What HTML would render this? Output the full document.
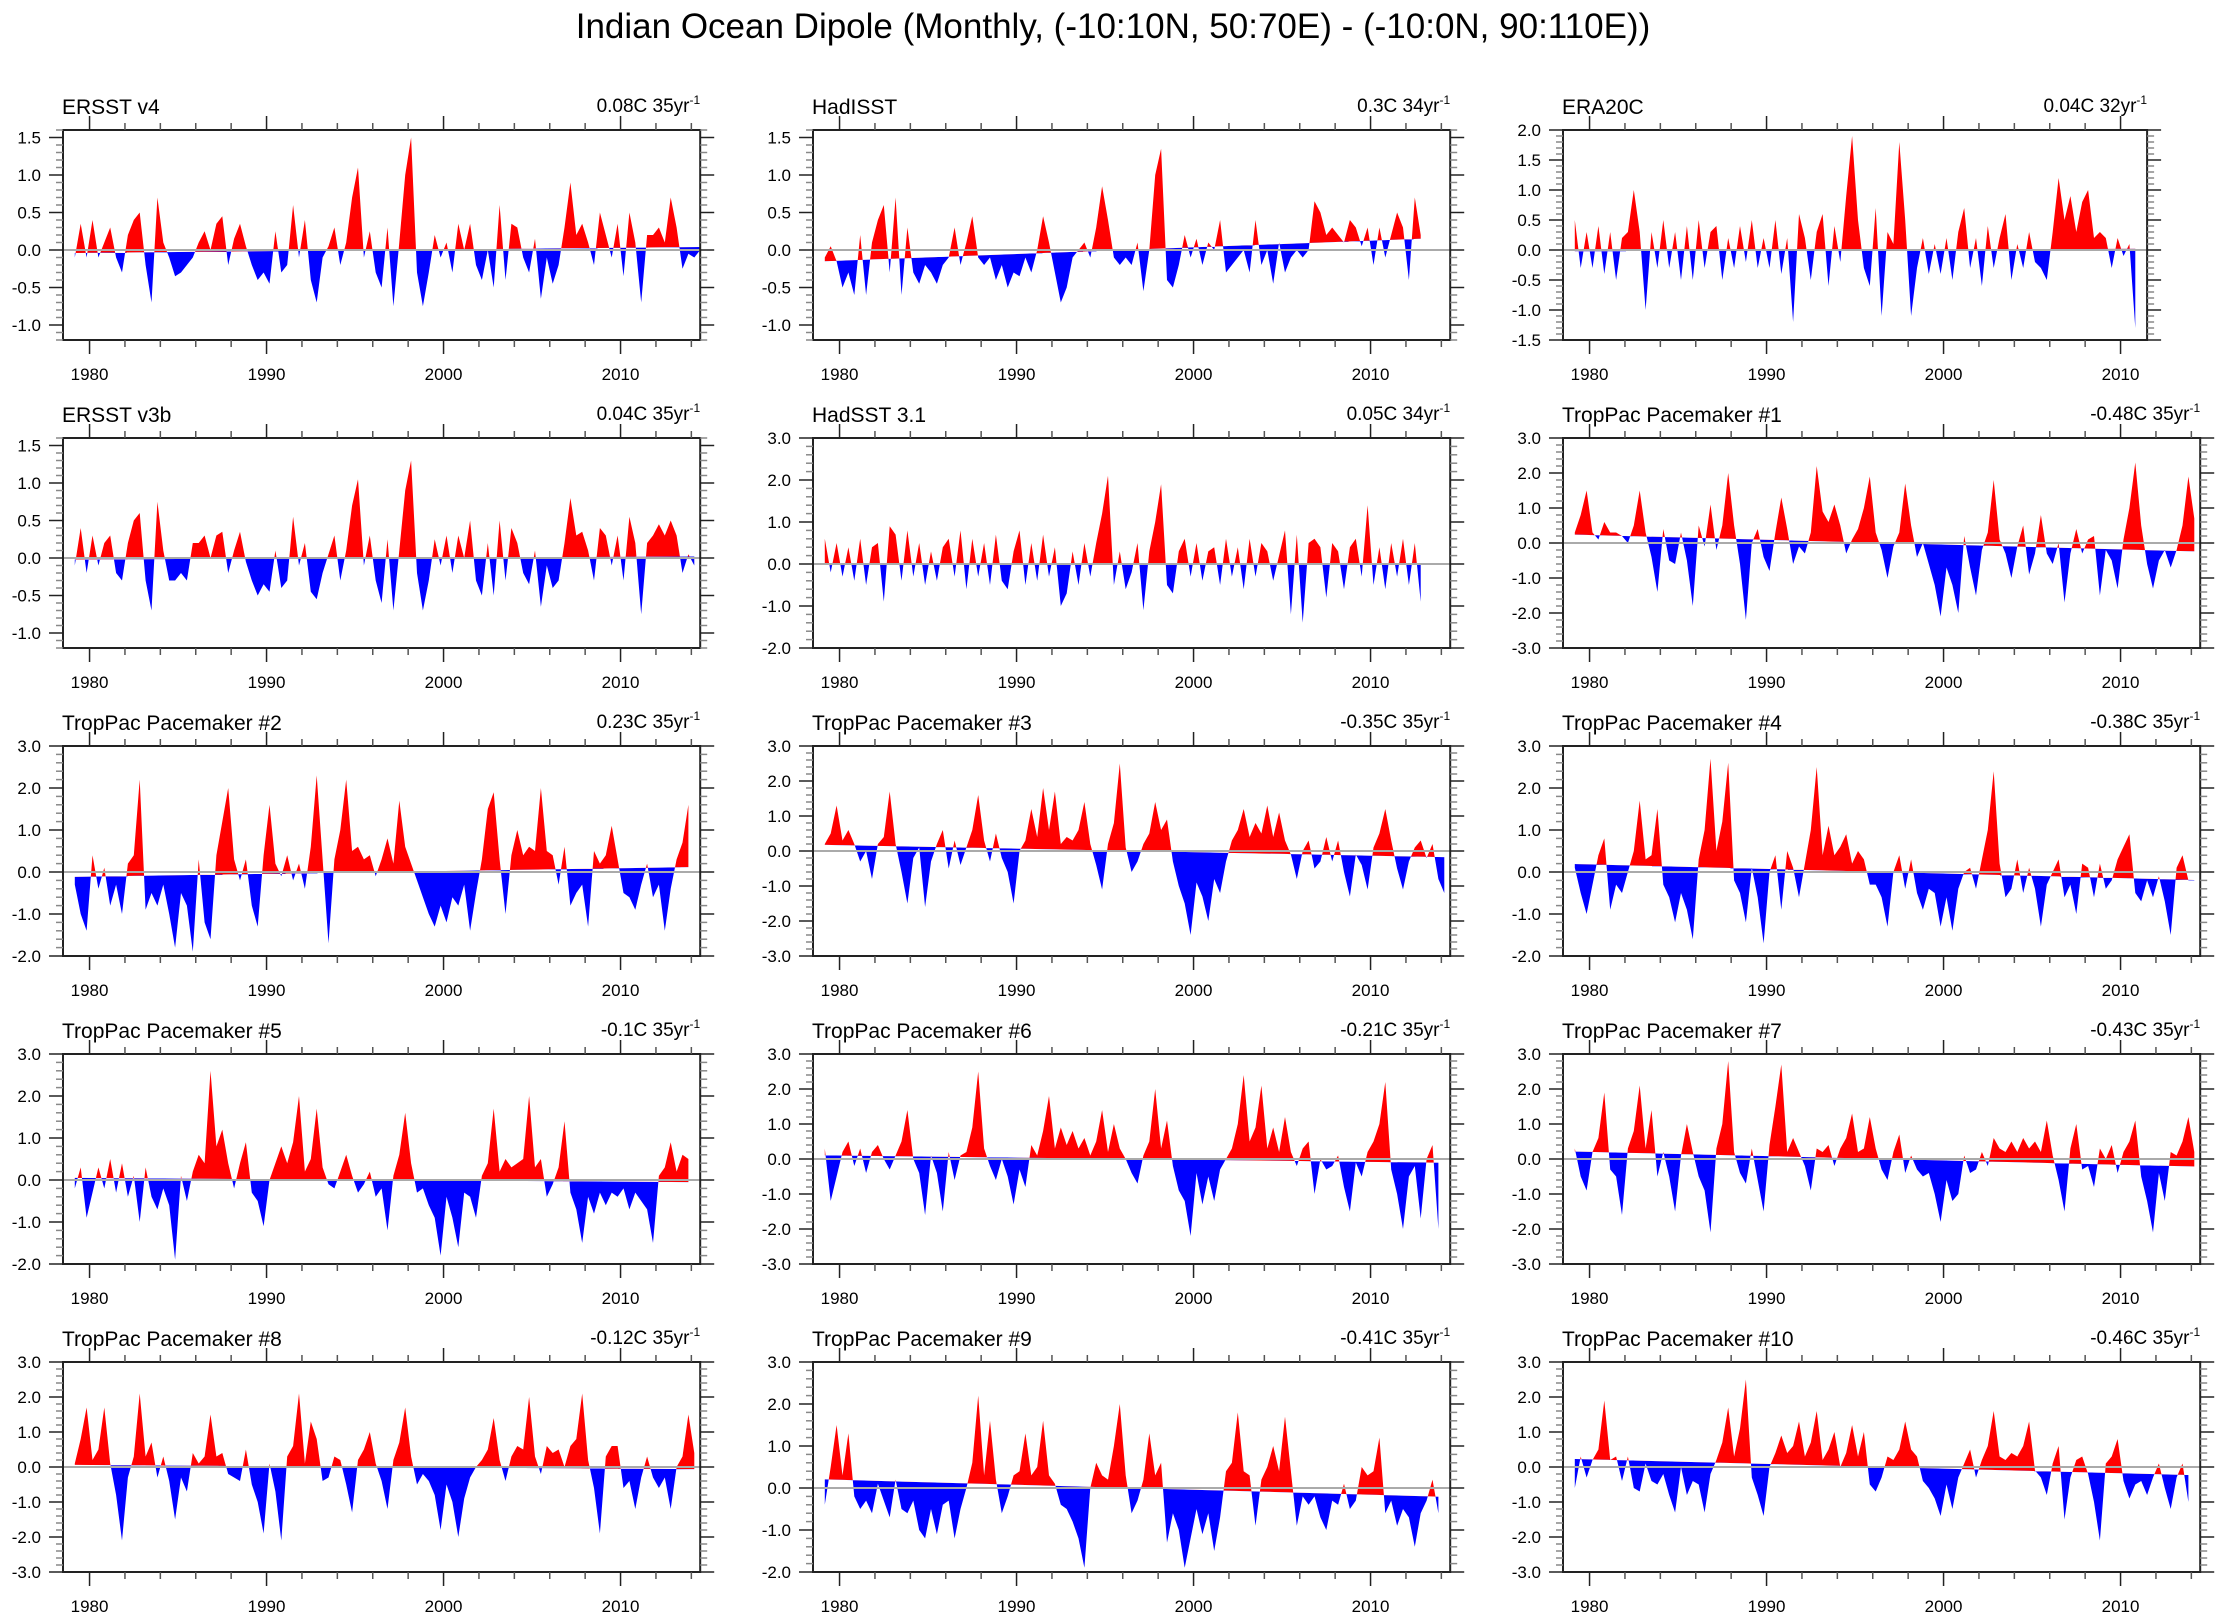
<!DOCTYPE html>
<html><head><meta charset="utf-8">
<style>
html,body{margin:0;padding:0;background:#fff;}
svg{display:block;font-family:"Liberation Sans",Arial,sans-serif;}
</style></head>
<body>
<svg id="chart" width="2226" height="1621" viewBox="0 0 2226 1621" xmlns="http://www.w3.org/2000/svg">
<text x="1113" y="38" text-anchor="middle" font-size="35">Indian Ocean Dipole (Monthly, (-10:10N, 50:70E) - (-10:0N, 90:110E))</text>
</svg>
<script>
// ---- data: values every 4 months starting 1979 ----
const ersst4 = [-0.1,0.35,-0.1, 0.4,-0.1,0.1, 0.3,-0.1,-0.3, 0.2,0.4,0.5, -0.2,-0.7,0.7, 0.1,-0.1,-0.35, -0.3,-0.2,-0.1, 0.1,0.25,0.0, 0.35,0.45,-0.2, 0.15,0.35,0.05, -0.2,-0.4,-0.3, -0.45,0.25,-0.3, -0.2,0.6,-0.1, 0.4,-0.4,-0.7, -0.1,0.05,0.3, -0.2,0.1,0.7, 1.1,-0.1,0.25, -0.3,-0.5,0.3, -0.75,0.1,1.0, 1.5,-0.3,-0.75, -0.3,0.2,-0.1, 0.1,-0.3,0.35, 0.0,0.35,-0.2, -0.4,0.0,-0.5, 0.6,-0.4,0.35, 0.3,-0.1,-0.3, 0.15,-0.65,-0.1, -0.45,-0.2,0.3, 0.9,0.2,0.35, 0.1,-0.2,0.5, 0.2,-0.1,0.35, -0.35,0.5,0.1, -0.7,0.2,0.2, 0.3,0.1,0.7, 0.3,-0.25,-0.05, -0.1,0.0];
const hadisst = [-0.1,0.05,-0.15, -0.5,-0.3,-0.6, 0.2,-0.6,0.1, 0.4,0.6,-0.3, 0.7,-0.6,0.3, -0.3,-0.45,-0.2, -0.3,-0.45,-0.2, -0.1,0.3,-0.2, 0.1,0.45,-0.1, -0.2,-0.1,-0.4, -0.2,-0.5,-0.3, -0.35,-0.1,-0.3, 0.0,0.45,0.1, -0.3,-0.7,-0.5, -0.1,0.0,0.1, -0.1,0.3,0.85, 0.4,-0.1,-0.2, -0.1,-0.2,0.1, -0.55,0.0,1.0, 1.35,-0.4,-0.5, -0.2,0.2,-0.1, 0.15,-0.2,0.1, 0.0,0.4,-0.3, -0.2,-0.1,0.0, -0.3,0.4,-0.2, 0.0,-0.45,0.1, -0.3,-0.1,0.0, -0.1,0.0,0.65, 0.5,0.2,0.3, 0.2,0.1,0.4, 0.3,0.05,0.3, -0.2,0.3,-0.1, 0.2,0.5,0.3, -0.4,0.7,0.2];
const era20c = [0.5,-0.3,0.3, -0.3,0.4,-0.4, 0.3,-0.5,0.2, 0.3,1.0,0.3, -1.0,0.3,-0.3, 0.5,-0.3,0.3, -0.5,0.4,-0.5, 0.5,-0.3,0.3, 0.4,-0.5,0.2, -0.3,0.4,-0.2, 0.5,-0.3,0.2, -0.3,0.5,-0.4, 0.2,-1.2,0.6, 0.2,-0.5,0.3, 0.6,-0.6,0.4, -0.2,0.9,1.9, 0.5,-0.3,-0.6, 0.7,-1.1,0.3, 0.1,1.8,0.5, -1.1,-0.3,0.2, -0.4,0.1,-0.4, 0.2,-0.5,0.3, 0.7,-0.3,0.2, -0.6,0.4,-0.3, 0.2,0.6,-0.5, 0.1,-0.3,0.3, -0.2,-0.3,-0.5, 0.3,1.2,0.5, 0.9,0.3,0.8, 1.0,0.2,0.3, 0.2,-0.3,0.2, -0.1,0.1,-1.3];
const ersst3b = [-0.1,0.4,-0.2, 0.3,-0.1,0.2, 0.3,-0.2,-0.3, 0.2,0.5,0.6, -0.3,-0.7,0.75, 0.1,-0.3,-0.3, -0.2,-0.3,0.2, 0.2,0.3,0.0, 0.3,0.35,-0.2, 0.1,0.35,-0.05, -0.3,-0.5,-0.35, -0.45,0.1,-0.4, -0.3,0.55,-0.1, 0.2,-0.45,-0.55, -0.2,0.05,0.3, -0.3,0.1,0.7, 1.05,-0.1,0.3, -0.3,-0.6,0.25, -0.7,0.1,0.9, 1.3,-0.2,-0.7, -0.3,0.25,-0.1, 0.3,-0.2,0.3, 0.0,0.5,-0.3, -0.5,0.2,-0.5, 0.5,-0.3,0.4, 0.2,-0.2,-0.35, 0.1,-0.65,-0.1, -0.4,-0.3,0.2, 0.8,0.3,0.35, 0.1,-0.3,0.4, 0.3,-0.1,0.3, -0.3,0.55,0.2, -0.75,0.2,0.3, 0.45,0.3,0.5, 0.3,-0.2,0.05, -0.1];
const hadsst = [0.6,-0.2,0.5, -0.3,0.4,-0.4, 0.6,-0.5,0.4, 0.5,-0.9,0.9, 0.7,-0.4,0.8, -0.3,0.5,-0.5, 0.3,-0.4,0.4, 0.6,-0.3,0.8, -0.6,0.6,-0.3, 0.5,-0.5,0.7, -0.4,-0.6,0.3, 0.8,-0.5,0.5, -0.4,0.7,-0.3, 0.4,-1.0,-0.7, 0.3,-0.5,0.5, -0.3,0.5,1.2, 2.1,-0.5,0.3, -0.6,-0.2,0.5, -1.1,0.3,1.0, 1.9,-0.5,-0.7, 0.3,0.6,-0.3, 0.5,-0.4,0.3, 0.4,-0.5,0.6, -0.3,0.4,-0.6, 0.6,-0.3,0.5, 0.3,-0.4,0.2, 0.8,-1.2,0.7, -1.4,0.5,0.6, 0.4,-0.8,0.5, 0.3,-0.6,0.4, 0.6,-0.3,1.4, -0.5,0.4,-0.6, 0.5,-0.3,0.6, -0.5,0.5,-0.9];
const pm1 = [0.3,0.8,1.5, 0.3,0.1,0.6, 0.3,0.3,0.2, 0.0,0.5,1.5, 0.3,-0.4,-1.4, 0.4,-0.5,-0.6, 0.3,-0.5,-1.8, 0.5,-0.1,1.1, -0.2,0.5,2.0, 0.5,-0.6,-2.2, 0.0,0.4,-0.4, -0.8,0.3,1.3, 0.4,-0.6,-0.1, -0.3,0.3,2.2, 0.9,0.6,1.1, 0.5,-0.3,0.1, 0.4,1.0,1.9, 0.3,-0.2,-1.0, -0.1,0.3,1.7, 0.5,-0.4,0.0, -0.6,-1.2,-2.1, -0.7,-1.2,-2.0, 0.2,-0.7,-1.5, -0.2,0.3,1.8, 0.1,-0.3,-1.0, -0.1,0.5,-0.9, -0.3,0.8,-0.3, -0.6,0.0,-1.7, -0.3,0.4,-0.3, 0.1,0.2,-1.5, -0.2,-0.5,-1.3, 0.1,1.0,2.3, 0.5,-0.6,-1.3, -0.5,-0.2,-0.7, -0.2,0.5,1.9, 0.7];
const pm2 = [-0.3,-1.0,-1.4, 0.4,-0.4,0.1, -0.8,-0.3,-1.0, 0.2,0.4,2.2, -0.9,-0.5,-0.8, -0.3,-1.0,-1.8, -0.5,-0.8,-1.9, 0.3,-1.2,-1.6, 0.4,1.2,2.0, 0.3,-0.2,0.3, -0.8,-1.3,0.4, 1.6,0.2,-0.1, 0.4,-0.2,0.2, -0.4,0.6,2.3, 0.3,-1.7,0.3, 1.0,2.2,0.5, 0.6,0.3,0.4, -0.1,0.3,0.8, 0.2,1.7,0.6, 0.2,-0.2,-0.6, -1.0,-1.3,-0.8, -1.2,-0.6,-0.8, -0.3,-1.4,-0.5, 0.3,1.5,1.9, 0.3,-1.0,0.4, 1.0,0.4,0.6, 0.5,2.0,0.5, 0.4,-0.3,0.6, -0.8,-0.5,-0.3, -1.3,0.5,0.2, 0.4,1.1,0.3, -0.5,-0.6,-0.9, -0.3,0.2,-0.6, -0.3,-1.4,-0.4, 0.3,0.7,1.6];
const pm3 = [0.2,0.5,1.3, 0.3,0.6,0.2, -0.3,0.0,-0.8, 0.2,0.4,1.7, 0.2,-0.6,-1.5, -0.2,0.1,-1.6, -0.3,0.2,0.6, -0.5,0.3,-0.4, 0.1,0.6,1.6, 0.3,-0.3,0.5, -0.2,-0.6,-1.5, 0.0,0.3,1.2, 0.4,1.8,0.6, 1.7,0.2,0.4, 0.3,0.6,1.4, 0.2,-0.4,-1.1, 0.2,0.8,2.5, 0.1,-0.6,-0.3, 0.2,0.5,1.4, 0.6,0.9,-0.3, -1.0,-1.5,-2.4, -0.9,-1.3,-2.0, -0.8,-1.2,-0.3, 0.3,0.6,1.2, 0.4,0.8,0.5, 1.3,0.4,1.1, 0.3,-0.1,-0.8, 0.0,0.3,-0.5, -0.3,0.4,-0.3, 0.3,-0.6,-1.3, -0.1,-0.4,-1.1, 0.1,0.5,1.2, 0.3,-0.5,-1.1, -0.3,0.1,0.3, -0.2,0.2,-0.8, -1.2];
const pm4 = [0.1,-0.5,-1.0, -0.3,0.4,0.8, -0.9,-0.3,-0.5, 0.0,0.5,1.7, 0.3,0.4,1.5, -0.3,-0.6,-1.2, -0.5,-0.9,-1.6, 0.3,1.0,2.7, 0.5,1.2,2.6, -0.2,-0.5,-1.2, 0.1,-0.6,-1.7, 0.0,0.4,-0.9, 0.5,0.1,-0.6, 0.2,1.0,2.5, 0.4,1.1,0.4, 0.6,0.9,0.2, 0.5,0.3,-0.3, -0.3,-0.6,-1.3, 0.0,0.4,-0.4, 0.3,-0.5,-0.9, -0.4,-0.5,-1.3, -0.6,-1.4,-0.4, 0.0,0.1,-0.4, 0.3,1.0,2.4, 0.2,-0.6,-0.4, 0.3,-0.5,0.1, -0.4,-1.3,-0.3, 0.0,0.3,-0.6, -0.3,-1.0,0.2, 0.1,-0.6,0.2, -0.4,-0.2,0.3, 0.6,0.9,-0.5, -0.7,-0.2,-0.6, -0.1,-0.7,-1.5, 0.1,0.4,-0.2, -0.2];
const pm5 = [-0.2,0.3,-0.9, -0.3,0.3,-0.2, 0.5,-0.3,0.4, -0.4,0.1,-1.0, 0.3,-0.4,-0.7, -0.2,-0.6,-1.9, 0.1,-0.5,0.2, 0.6,0.4,2.6, 0.8,1.2,0.4, -0.2,0.4,0.9, -0.3,-0.5,-1.1, 0.0,0.4,0.8, 0.4,0.9,2.0, 0.2,0.5,1.7, 0.3,-0.1,-0.2, 0.2,0.6,0.1, -0.3,-0.1,0.2, -0.4,-0.2,-1.2, 0.1,0.6,1.6, 0.4,-0.3,-0.2, -0.6,-0.9,-1.8, -0.4,-0.9,-1.6, -0.3,-0.4,-0.9, 0.1,0.4,1.7, 0.2,0.5,0.3, 0.4,0.5,2.0, 0.3,0.5,-0.4, -0.1,0.3,1.4, -0.3,-0.7,-1.5, -0.4,-0.8,-0.3, -0.6,-0.3,-0.4, -0.2,-0.7,-0.3, -0.5,-0.7,-1.5, 0.1,0.3,0.9, 0.2,0.6,0.5];
const pm6 = [0.3,-1.2,-0.5, 0.2,0.5,-0.2, 0.3,-0.4,0.2, 0.4,0.0,-0.3, 0.1,0.5,1.4, 0.0,-0.4,-1.6, 0.1,-0.4,-1.5, 0.2,-0.6,0.1, 0.2,0.9,2.5, 0.3,-0.2,-0.6, 0.0,-0.5,-1.3, -0.3,-0.8,0.4, 0.1,0.8,1.8, 0.3,0.9,0.4, 0.8,0.3,0.6, 0.1,0.5,1.4, 0.2,1.0,0.3, 0.0,-0.4,-0.7, 0.1,0.5,2.0, 0.3,1.1,-0.2, -0.9,-1.2,-2.2, -0.4,-1.3,-0.5, -1.2,-0.3,0.0, 0.3,1.0,2.4, 0.5,0.9,2.1, 0.3,0.9,0.2, 1.2,0.2,-0.2, 0.3,0.5,-1.0, 0.0,-0.3,-0.2, 0.1,-0.8,-1.5, -0.1,-0.5,0.2, 0.5,1.0,2.2, -0.3,-1.0,-2.0, -0.5,-0.2,-1.7, 0.0,0.4,-2.0];
const pm7 = [0.3,-0.5,-0.9, 0.2,0.6,1.9, -0.3,-0.5,-1.6, 0.3,0.8,2.1, 0.3,1.4,-0.5, 0.2,-0.5,-1.5, 0.1,1.0,0.2, -0.5,-0.9,-2.1, 0.3,1.0,2.8, 0.2,-0.4,-0.7, 0.3,-0.6,-1.5, 0.4,1.5,2.7, 0.2,0.6,0.2, -0.2,-0.9,0.3, 0.2,0.4,-0.2, 0.3,0.6,1.3, 0.2,0.3,1.2, 0.3,-0.3,-0.6, 0.2,0.7,-0.4, 0.1,-0.3,-0.5, -0.4,-1.0,-1.8, -0.6,-1.2,-1.0, 0.1,-0.4,-0.3, 0.2,-0.2,0.6, 0.3,0.2,0.5, 0.2,0.6,0.3, 0.5,0.2,1.1, 0.1,-0.6,-1.5, 0.3,1.0,-0.3, -0.2,-0.8,0.3, 0.0,0.4,-0.4, 0.2,0.5,1.1, -0.5,-1.2,-2.1, -0.4,-1.2,0.2, 0.1,0.5,1.2, 0.2];
const pm8 = [0.1,0.8,1.7, 0.2,0.5,1.7, 0.1,-0.8,-2.1, -0.3,0.3,2.1, 0.3,0.7,-0.3, 0.3,-0.4,-1.5, -0.3,-0.7,0.4, 0.1,0.3,1.5, 0.3,0.4,-0.2, -0.3,-0.4,0.5, -0.5,-1.0,-1.9, 0.1,-0.7,-2.1, 0.3,0.6,2.1, 0.1,1.3,0.8, -0.4,-0.3,0.3, 0.2,-0.5,-1.3, 0.2,0.5,1.0, 0.1,-0.4,-1.2, 0.2,0.7,1.7, 0.3,-0.5,-0.2, -0.4,-0.8,-1.8, -0.5,-1.0,-2.0, -0.9,-0.3,0.0, 0.2,0.5,1.4, 0.2,-0.4,0.3, 0.6,0.5,2.0, 0.3,-0.2,0.6, 0.4,0.5,0.0, 0.6,0.8,2.1, 0.2,-0.6,-1.9, 0.3,0.6,0.6, -0.6,-0.4,-1.2, -0.3,0.3,-0.3, -0.6,-0.3,-1.2, 0.0,0.3,1.5, 0.4];
const pm9 = [-0.4,0.5,1.5, 0.3,1.3,-0.2, -0.5,-0.3,-0.6, 0.1,-0.3,-0.7, 0.2,-0.5,-0.6, -0.3,-1.0,-1.2, -0.5,-1.1,-0.4, -0.3,-1.2,-0.5, 0.0,0.6,2.2, 0.3,1.6,0.2, -0.6,-0.2,0.3, 0.4,1.3,0.3, 0.5,1.6,0.3, 0.1,-0.4,-0.5, -0.8,-1.2,-1.9, 0.0,0.6,0.3, 0.2,1.0,2.0, 0.3,-0.6,-0.3, 0.2,1.3,0.3, 0.6,-1.3,-0.6, -1.0,-1.9,-1.2, -0.5,-1.1,-0.6, -1.5,-0.7,0.4, 0.6,1.8,0.4, 0.3,-0.9,0.2, 0.5,1.0,0.4, 1.7,0.4,-0.9, -0.2,-0.4,-0.2, -0.7,-1.0,-0.3, -0.4,0.1,-0.5, -0.3,0.5,0.3, 0.4,1.2,-0.6, -0.3,-0.9,-0.5, -0.7,-1.4,-0.6, -0.3,0.2,-0.6];
const pm10 = [-0.6,0.3,-0.3, 0.2,0.5,1.9, 0.2,0.3,-0.4, 0.3,-0.6,-0.7, 0.1,-0.4,-0.5, -0.2,-0.8,-1.3, 0.0,-0.8,-0.4, -0.5,-1.3,-0.2, 0.2,0.7,1.7, 0.3,1.1,2.5, -0.3,-0.8,-1.4, 0.0,0.4,0.9, 0.4,0.6,1.3, 0.3,0.7,1.6, 0.2,0.5,1.0, 0.0,0.4,1.2, 0.3,1.0,-0.5, -0.7,-0.3,0.3, 0.2,0.5,1.3, 0.5,0.3,-0.4, -0.6,-0.9,-1.4, -0.5,-1.2,-0.3, 0.1,0.5,-0.3, 0.2,0.6,1.6, 0.3,0.2,0.4, 0.3,0.6,1.3, -0.1,-0.3,-0.8, 0.1,0.6,-1.5, -0.3,0.2,0.3, -0.2,-1.0,-2.1, 0.1,0.3,0.8, -0.4,-0.9,-0.5, -0.4,-0.8,-0.3, 0.1,-0.6,-1.2, -0.3,0.1,-1.0];

const panelTitles = ["ERSST v4","HadISST","ERA20C","ERSST v3b","HadSST 3.1","TropPac Pacemaker #1","TropPac Pacemaker #2","TropPac Pacemaker #3","TropPac Pacemaker #4","TropPac Pacemaker #5","TropPac Pacemaker #6","TropPac Pacemaker #7","TropPac Pacemaker #8","TropPac Pacemaker #9","TropPac Pacemaker #10"];
const trendValues = [0.08,0.3,0.04,0.04,0.05,-0.48,0.23,-0.35,-0.38,-0.1,-0.21,-0.43,-0.12,-0.41,-0.46];
const trendYears = [35,34,32,35,34,35,35,35,35,35,35,35,35,35,35];
const yMins = [-1.2,-1.2,-1.5,-1.2,-2,-3,-2,-3,-2,-2,-3,-3,-3,-2,-3];
const yMaxs = [1.6,1.6,2.0,1.6,3,3,3,3,3,3,3,3,3,3,3];
const yEnds = [2014.5,2014.5,2011.5,2014.5,2014.5,2014.5,2014.5,2014.5,2014.5,2014.5,2014.5,2014.5,2014.5,2014.5,2014.5];
const series = [ersst4,hadisst,era20c,ersst3b,hadsst,pm1,pm2,pm3,pm4,pm5,pm6,pm7,pm8,pm9,pm10];
const yearLabels = [1980,1990,2000,2010];

const NS = "http://www.w3.org/2000/svg";
const svg = document.getElementById('chart');
function mk(tag, attrs, parent){
  const e = document.createElementNS(NS, tag);
  for (const k in attrs) e.setAttribute(k, attrs[k]);
  (parent||svg).appendChild(e);
  return e;
}
const PX_PER_YR = 17.7, X0YR = 1978.5, BOX_H = 210;
const colLeft = [63, 813, 1563];
const rowTop = [130, 438, 746, 1054, 1362];

series.forEach((vals, p) => {
  const left = colLeft[p % 3], top = rowTop[Math.floor(p / 3)];
  const right = left + (yEnds[p] - X0YR) * PX_PER_YR, bottom = top + BOX_H;
  const ymin = yMins[p], ymax = yMaxs[p];
  const xs = t => left + (t - X0YR) * PX_PER_YR;
  const ys = v => bottom - (v - ymin) / (ymax - ymin) * BOX_H;
  const g = mk('g', {});
  
  

  const title = mk('text', {x: left - 1, y: top - 16, 'font-size': 21}, g);
  title.textContent = panelTitles[p];
  
  

  const tr = mk('text', {x: right, y: top - 18, 'font-size': 19, 'text-anchor': 'end'}, g);
  
  
  const s1 = mk('tspan', {}, tr); s1.textContent = trendValues[p] + 'C ' + trendYears[p] + 'yr';
  const s2 = mk('tspan', {dy: -8, 'font-size': 12}, tr); s2.textContent = '-1';

  const n = vals.length;
  const times = vals.map((v, i) => 1979 + i / 3 + 1 / 6);
  const t0 = times[0], tn = times[n - 1];
  const T = trendValues[p];
  const base = t => T * ((t - t0) / (tn - t0) - 0.5);
  let pts = xs(t0) + ',' + ys(base(t0)) + ' ';
  vals.forEach((v, i) => { pts += xs(times[i]).toFixed(1) + ',' + ys(v).toFixed(1) + ' '; });
  pts += xs(tn) + ',' + ys(base(tn));
  const yL = ys(base(t0) - (base(tn) - base(t0)) * (xs(t0) - left) / (xs(tn) - xs(t0)));
  const yR = ys(base(t0) + (base(tn) - base(t0)) * (right - xs(t0)) / (xs(tn) - xs(t0)));
  const cidA = 'ca' + p, cidB = 'cb' + p;
  const defs = mk('defs', {}, g);
  const ca = mk('clipPath', {id: cidA}, defs);
  mk('polygon', {points: `${left},${top} ${right},${top} ${right},${yR} ${left},${yL}`}, ca);
  const cb = mk('clipPath', {id: cidB}, defs);
  mk('polygon', {points: `${left},${bottom} ${right},${bottom} ${right},${yR} ${left},${yL}`}, cb);
  const pa = mk('polygon', {points: pts, fill: '#ff0000', 'clip-path': `url(#${cidA})`}, g);
  
  
  const pb = mk('polygon', {points: pts, fill: '#0000ff', 'clip-path': `url(#${cidB})`}, g);
  
  

  const zl = mk('line', {x1: left, x2: right, y1: ys(0), y2: ys(0), stroke: '#aaa', 'stroke-width': 2}, g);
  
  

  const bx = mk('rect', {x: left, y: top, width: right - left, height: BOX_H, fill: 'none', stroke: '#222', 'stroke-width': 2}, g);
  
  

  for (let yr = 1980; yr <= yEnds[p]; yr += 2) {
    const x = xs(yr), major = yr % 10 === 0, L = major ? 14 : 7;
    mk('line', {x1: x, x2: x, y1: top, y2: top - L, stroke: major ? '#222' : '#555', 'stroke-width': 1.5}, g);
    mk('line', {x1: x, x2: x, y1: bottom, y2: bottom + L, stroke: major ? '#222' : '#555', 'stroke-width': 1.5}, g);
  }
  yearLabels.forEach(yr => {
    if (yr > yEnds[p]) return;
    const t = mk('text', {x: xs(yr), y: bottom + 40, 'font-size': 17, 'text-anchor': 'middle'}, g);
    t.textContent = yr;
    
    
  });
  const step = (ymax - ymin) > 4 ? 1 : 0.5, minor = step === 1 ? 0.2 : 0.1;
  for (let k = Math.ceil(ymin / minor - 1e-6); k * minor <= ymax + 1e-6; k++) {
    const v = k * minor, y = ys(v);
    const isMaj = Math.abs(v / step - Math.round(v / step)) < 1e-6;
    const L = isMaj ? 14 : 7, c = isMaj ? '#222' : '#888';
    mk('line', {x1: left, x2: left - L, y1: y, y2: y, stroke: c, 'stroke-width': 1.5}, g);
    mk('line', {x1: right, x2: right + L, y1: y, y2: y, stroke: c, 'stroke-width': 1.5}, g);
    if (isMaj) {
      const t = mk('text', {x: left - 22, y: y + 6, 'font-size': 17, 'text-anchor': 'end'}, g);
      t.textContent = v.toFixed(1);
      
      
    }
  }
});
</script>
</body></html>
